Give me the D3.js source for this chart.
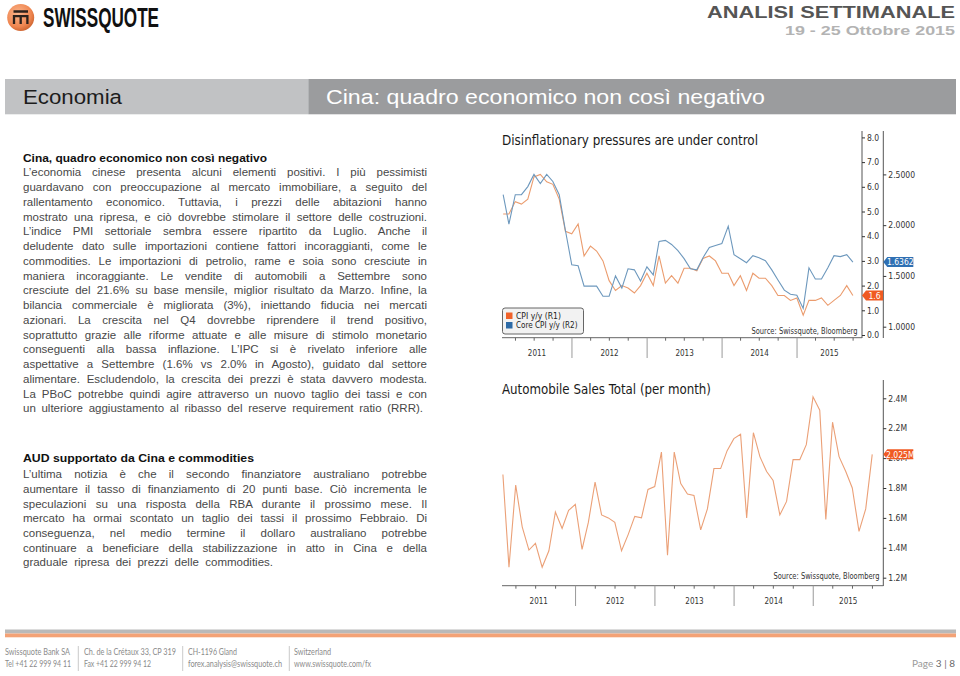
<!DOCTYPE html>
<html><head><meta charset="utf-8">
<script src="https://cdn.jsdelivr.net/npm/d3@7"></script>
<style>body{margin:0;background:#fff}svg{display:block}</style>
</head><body>
<svg id="page" width="960" height="676"></svg>
<script>
// ---------------- DATA ----------------
const years = [2011, 2012, 2013, 2014, 2015];
const cpiValues = [4.9,4.9,5.4,5.3,5.5,6.4,6.5,6.2,6.1,5.5,4.2,4.1,
  4.5,3.2,3.6,3.4,3.0,2.2,1.8,2.0,1.9,1.7,2.0,2.5,
  2.0,3.2,2.1,2.4,2.1,2.7,2.7,2.6,3.1,3.2,3.0,2.5,
  2.5,2.0,2.4,1.8,2.5,2.3,2.3,2.0,1.6,1.6,1.4,1.5,
  0.8,1.4,1.4,1.5,1.2,1.4,1.6,2.0,1.6];
const coreCpiValues = [2.30,2.01,2.30,2.30,2.38,2.50,2.41,2.50,2.43,2.30,1.95,1.61,
  1.60,1.40,1.40,1.40,1.30,1.30,1.50,1.38,1.57,1.56,1.45,1.59,
  1.51,1.84,1.85,1.81,1.75,1.67,1.57,1.56,1.68,1.78,1.80,1.82,
  1.99,1.71,1.67,1.63,1.70,1.68,1.65,1.56,1.46,1.36,1.32,1.31,
  1.18,1.58,1.47,1.47,1.58,1.70,1.69,1.71,1.6362];
const autoSalesValues = [1.89,1.27,1.82,1.54,1.385,1.43,1.27,1.38,1.64,1.53,1.65,1.69,
  1.39,1.57,1.84,1.62,1.60,1.57,1.38,1.49,1.61,1.60,1.79,1.81,
  2.04,1.35,2.04,1.83,1.76,1.75,1.52,1.66,1.93,1.93,2.05,2.13,
  2.16,1.60,2.17,2.01,1.91,1.85,1.62,1.71,1.99,1.99,2.09,2.41,
  2.32,1.59,2.24,2.01,1.91,1.80,1.51,1.66,2.025];
const cpiTicks = [0,1,2,3,4,5,6,7,8];
const coreTicks = [1.0,1.5,2.0,2.5];
const salesTicks = [1.2,1.4,1.6,1.8,2.0,2.2,2.4];
const cpiLastLabel = "1.6";
const coreLastLabel = "1.6362";
const salesLastLabel = "2.025M";
const legendLabels = ["CPI y/y (R1)", "Core CPI y/y (R2)"];

const topTitle = "Disinflationary pressures are under control";
const bottomTitle = "Automobile Sales Total (per month)";
const sourceText = "Source: Swissquote, Bloomberg";

const block1Title = "Cina, quadro economico non così negativo";
const block1Lines = [
 "L’economia cinese presenta alcuni elementi positivi. I più pessimisti",
 "guardavano con preoccupazione al mercato immobiliare, a seguito del",
 "rallentamento economico. Tuttavia, i prezzi delle abitazioni hanno",
 "mostrato una ripresa, e ciò dovrebbe stimolare il settore delle costruzioni.",
 "L’indice PMI settoriale sembra essere ripartito da Luglio. Anche il",
 "deludente dato sulle importazioni contiene fattori incoraggianti, come le",
 "commodities. Le importazioni di petrolio, rame e soia sono cresciute in",
 "maniera incoraggiante. Le vendite di automobili a Settembre sono",
 "cresciute del 21.6% su base mensile, miglior risultato da Marzo. Infine, la",
 "bilancia commerciale è migliorata (3%), iniettando fiducia nei mercati",
 "azionari. La crescita nel Q4 dovrebbe riprendere il trend positivo,",
 "soprattutto grazie alle riforme attuate e alle misure di stimolo monetario",
 "conseguenti alla bassa inflazione. L’IPC si è rivelato inferiore alle",
 "aspettative a Settembre (1.6% vs 2.0% in Agosto), guidato dal settore",
 "alimentare. Escludendolo, la crescita dei prezzi è stata davvero modesta.",
 "La PBoC potrebbe quindi agire attraverso un nuovo taglio dei tassi e con",
 "un ulteriore aggiustamento al ribasso del reserve requirement ratio (RRR)."
];
const block2Title = "AUD supportato da Cina e commodities";
const block2Lines = [
 "L’ultima notizia è che il secondo finanziatore australiano potrebbe",
 "aumentare il tasso di finanziamento di 20 punti base. Ciò incrementa le",
 "speculazioni su una risposta della RBA durante il prossimo mese. Il",
 "mercato ha ormai scontato un taglio dei tassi il prossimo Febbraio. Di",
 "conseguenza, nel medio termine il dollaro australiano potrebbe",
 "continuare a beneficiare della stabilizzazione in atto in Cina e della",
 "graduale ripresa dei prezzi delle commodities."
];
const footerCols = [
 ["Swissquote Bank SA", "Tel +41 22 999 94 11"],
 ["Ch. de la Crétaux 33, CP 319", "Fax +41 22 999 94 12"],
 ["CH-1196 Gland", "forex.analysis@swissquote.ch"],
 ["Switzerland", "www.swissquote.com/fx"]
];

// ---------------- PAGE ----------------
const svg = d3.select('#page');
const SANS = "'Liberation Sans', Arial, sans-serif";
const BBG = "'DejaVu Sans Condensed', 'DejaVu Sans', sans-serif";

function fitText(sel, target, allowStretch) {
  const n = sel.node();
  const nat = n.getComputedTextLength();
  const spaces = (sel.text().match(/ /g) || []).length;
  if (nat <= target && spaces > 0) {
    if (allowStretch) sel.attr('word-spacing', (target - nat) / spaces);
  } else if (nat > target) {
    sel.attr('textLength', target).attr('lengthAdjust', 'spacingAndGlyphs');
  }
}

// Logo
const defs = svg.append('defs');
const rg = defs.append('radialGradient').attr('id','lg').attr('cx','40%').attr('cy','35%').attr('r','70%');
rg.append('stop').attr('offset','0%').attr('stop-color','#fbb58c');
rg.append('stop').attr('offset','70%').attr('stop-color','#ef8650');
rg.append('stop').attr('offset','100%').attr('stop-color','#c9602c');
svg.append('circle').attr('cx',20.7).attr('cy',17.5).attr('r',13.5).attr('fill','url(#lg)');
svg.append('path').attr('d','M13.5,11.5 H28 M14,24 V16.2 H27.4 V24 M20.7,16.2 V24')
  .attr('fill','none').attr('stroke','#2b211c').attr('stroke-width',2.3);
svg.append('text').attr('x',43).attr('y',27.3).attr('font-family',"'Liberation Sans Narrow','Liberation Sans',Arial,sans-serif")
  .attr('font-weight','bold').attr('font-size',27).attr('fill','#111')
  .attr('textLength',116).attr('lengthAdjust','spacingAndGlyphs').text('SWISSQUOTE');

svg.append('text').attr('x',955).attr('y',17.5).attr('text-anchor','end').attr('font-family',SANS)
  .attr('font-weight','bold').attr('font-size',17).attr('fill','#555')
  .attr('textLength',248).attr('lengthAdjust','spacingAndGlyphs').text('ANALISI SETTIMANALE');
svg.append('text').attr('x',955).attr('y',35.3).attr('text-anchor','end').attr('font-family',SANS)
  .attr('font-weight','bold').attr('font-size',13.5).attr('fill','#b3b3b3')
  .attr('textLength',170).attr('lengthAdjust','spacingAndGlyphs').text('19 - 25 Ottobre 2015');

// Section band
svg.append('rect').attr('x',5).attr('y',79).attr('width',303.3).attr('height',35.3).attr('fill','#c1c2c4');
svg.append('rect').attr('x',308.3).attr('y',79).attr('width',647.7).attr('height',35.3).attr('fill','#9b9c9e');
svg.append('text').attr('x',23).attr('y',104).attr('font-family',SANS).attr('font-size',20.5).attr('fill','#1c1c1c')
  .attr('textLength',99).attr('lengthAdjust','spacingAndGlyphs').text('Economia');
svg.append('text').attr('x',326).attr('y',104).attr('font-family',SANS).attr('font-size',20.5).attr('fill','#fff')
  .attr('textLength',439).attr('lengthAdjust','spacingAndGlyphs').text('Cina: quadro economico non così negativo');

// Text blocks
function textBlock(title, titleW, lines, lastW, titleY, firstY, step) {
  svg.append('text').attr('x',23).attr('y',titleY).attr('font-family',SANS)
    .attr('font-weight','bold').attr('font-size',11.5).attr('fill','#111')
    .attr('textLength', titleW).attr('lengthAdjust','spacingAndGlyphs').text(title);
  lines.forEach((ln, i) => {
    const s = svg.append('text').attr('x',23).attr('y',firstY + i*step).attr('font-family',SANS)
      .attr('font-size',11.5).attr('fill','#484848').text(ln);
    const last = i === lines.length - 1;
    fitText(s, last ? lastW : 404, true);
  });
}
textBlock(block1Title, 244, block1Lines, 400, 161.5, 176.3, 14.75);
textBlock(block2Title, 231, block2Lines, 250, 461.5, 478.3, 14.67);

// Footer
svg.append('rect').attr('x',5).attr('y',629.5).attr('width',951).attr('height',4).attr('fill','#b9b9b9');
svg.append('rect').attr('x',5).attr('y',633.5).attr('width',951).attr('height',3.8).attr('fill','#f3a276');
const colX = [5, 84, 188, 294];
const colW = [[65, 66], [92, 67], [49, 94], [37, 77]];
const sepX = [78.3, 182.7, 289.3];
sepX.forEach(x => svg.append('line').attr('x1',x).attr('x2',x).attr('y1',646).attr('y2',671).attr('stroke','#bbb').attr('stroke-width',0.8));
footerCols.forEach((c, i) => {
  c.forEach((t, j) => svg.append('text').attr('x', colX[i]).attr('y', 654.5 + j*12).attr('font-family',"Lato, 'Open Sans', sans-serif")
    .attr('font-size',8.8).attr('fill','#8a8a8a').attr('textLength', colW[i][j]).attr('lengthAdjust','spacingAndGlyphs').text(t));
});
const pg = svg.append('text').attr('x',955).attr('y',667).attr('text-anchor','end').attr('font-family',"Lato, 'Open Sans', sans-serif").attr('font-size',10);
pg.append('tspan').attr('fill','#9a9a9a').text('Page ');
pg.append('tspan').attr('fill','#6a6a6a').text('3 | 8');

// ---------------- helpers for charts ----------------
function drawTag(g, x, y, w, fill, label) {
  const h = 10;
  g.append('path').attr('d', `M${x},${y} L${x+4},${y-h/2} L${x+w},${y-h/2} L${x+w},${y+h/2} L${x+4},${y+h/2} Z`)
    .attr('fill', fill);
  g.append('text').attr('x', x + 4 + (w-4)/2).attr('y', y + 3.2).attr('text-anchor','middle')
    .attr('font-family',BBG).attr('font-size',8.5).attr('fill','#fff').text(label);
}
function styleAxis(g) {
  g.select('.domain').remove();
  g.attr('font-family', BBG).attr('font-size', 8.5);
  g.selectAll('.tick line').attr('stroke','#333');
  g.selectAll('.tick text').attr('fill','#333');
}
function timeAxis(g, x, y, x0, x1, bottomY) {
  g.append('line').attr('x1',x0).attr('x2',x1).attr('y1',y).attr('y2',y).attr('stroke','#666');
  const quarters = d3.timeMonths(new Date(2011,0,1), new Date(2016,0,1), 3).filter(d => d.getMonth() !== 0 && x(d) > x0 && x(d) < x1);
  g.selectAll('.qt').data(quarters).join('line').attr('x1', d => x(d)).attr('x2', d => x(d))
    .attr('y1', y).attr('y2', y + 3).attr('stroke', '#666');
  const seps = years.slice(1).map(yr => new Date(yr,0,1));
  g.selectAll('.ys').data(seps).join('line').attr('x1', d => x(d)).attr('x2', d => x(d))
    .attr('y1', y).attr('y2', bottomY).attr('stroke', '#9a9a9a');
  g.selectAll('.yl').data(years).join('text')
    .attr('x', yr => (Math.max(x0, x(new Date(yr,0,1))) + Math.min(x1, x(new Date(yr+1,0,1)))) / 2)
    .attr('y', y + 18.5).attr('text-anchor','middle').attr('font-family',BBG).attr('font-size',8)
    .attr('fill','#333').text(yr => yr);
}
const dates = d3.range(cpiValues.length).map(i => new Date(2011, i + 1, 0));

// ---------------- TOP CHART ----------------
const gT = svg.append('g');
gT.append('text').attr('x',502).attr('y',145).attr('font-family',BBG).attr('font-size',14).attr('fill','#1a1a1a')
  .attr('textLength',256).attr('lengthAdjust','spacingAndGlyphs').text(topTitle);
const xTop = d3.scaleTime().domain([new Date(2011,0,1), new Date(2016,0,1)]).range([497, 872]);
const yR1 = d3.scaleLinear().domain([0, 8]).range([335, 137.4]);
const yR2 = d3.scaleLinear().domain([1, 2.5]).range([326.7, 174.4]);
gT.append('path').attr('d', d3.line().x((d,i) => xTop(dates[i])).y(d => yR1(d))(cpiValues))
  .attr('fill','none').attr('stroke','#eb9c6e').attr('stroke-width',1.1);
gT.append('path').attr('d', d3.line().x((d,i) => xTop(dates[i])).y(d => yR2(d))(coreCpiValues))
  .attr('fill','none').attr('stroke','#6d98bd').attr('stroke-width',1.1);

// legend
const lg = gT.append('g');
lg.append('rect').attr('x',502.5).attr('y',308).attr('width',81).attr('height',26).attr('rx',2.5)
  .attr('fill','#f2f2f2').attr('stroke','#555').attr('stroke-width',0.9);
const legendColors = ['#f0622a', '#2d6aa6'];
legendLabels.forEach((l, i) => {
  lg.append('rect').attr('x',506).attr('y',312.5 + i*9.5).attr('width',6.5).attr('height',6.5).attr('fill',legendColors[i]);
  lg.append('text').attr('x',516).attr('y',318.8 + i*9.5).attr('font-family',BBG).attr('font-size',8).attr('fill','#222')
    .attr('textLength', i === 0 ? 45 : 61.5).attr('lengthAdjust','spacingAndGlyphs').text(l);
});
gT.append('text').attr('x',857.5).attr('y',334).attr('text-anchor','end').attr('font-family',BBG).attr('font-size',8.3)
  .attr('fill','#333').attr('textLength',106).attr('lengthAdjust','spacingAndGlyphs').text(sourceText);

// axes
gT.append('line').attr('x1',862).attr('x2',862).attr('y1',131).attr('y2',338).attr('stroke','#555');
gT.append('line').attr('x1',883.3).attr('x2',883.3).attr('y1',131).attr('y2',338).attr('stroke','#555');
gT.append('g').attr('transform','translate(862,0)')
  .call(d3.axisRight(yR1).tickValues(cpiTicks).tickSize(3).tickPadding(2).tickFormat(d3.format('.1f'))).call(styleAxis);
gT.append('g').attr('transform','translate(883.3,0)')
  .call(d3.axisRight(yR2).tickValues(coreTicks).tickSize(3).tickPadding(2).tickFormat(d3.format('.4f'))).call(styleAxis);
timeAxis(gT, xTop, 337.7, 502, 862, 358);
drawTag(gT, 883.3, yR2(coreCpiValues[coreCpiValues.length-1]), 30, '#2f70b3', coreLastLabel);
drawTag(gT, 862, yR1(cpiValues[cpiValues.length-1]), 21, '#f05a22', cpiLastLabel);

// ---------------- BOTTOM CHART ----------------
const gB = svg.append('g');
gB.append('text').attr('x',502).attr('y',393.5).attr('font-family',BBG).attr('font-size',14).attr('fill','#1a1a1a')
  .attr('textLength',209).attr('lengthAdjust','spacingAndGlyphs').text(bottomTitle);
const xBot = d3.scaleTime().domain([new Date(2011,0,1), new Date(2016,0,1)]).range([496.4, 892.4]);
const ySales = d3.scaleLinear().domain([1.2, 2.4]).range([577.7, 398.3]);
gB.append('path').attr('d', d3.line().x((d,i) => xBot(dates[i])).y(d => ySales(d))(autoSalesValues))
  .attr('fill','none').attr('stroke','#eba077').attr('stroke-width',1.1);
gB.append('text').attr('x',879.5).attr('y',579).attr('text-anchor','end').attr('font-family',BBG).attr('font-size',8.3)
  .attr('fill','#333').attr('textLength',106).attr('lengthAdjust','spacingAndGlyphs').text(sourceText);
gB.append('line').attr('x1',883.3).attr('x2',883.3).attr('y1',380).attr('y2',586).attr('stroke','#555');
gB.append('g').attr('transform','translate(883.3,0)')
  .call(d3.axisRight(ySales).tickValues(salesTicks).tickSize(3).tickPadding(2).tickFormat(d => d3.format('.1f')(d) + 'M')).call(styleAxis);
timeAxis(gB, xBot, 585.7, 502, 883.3, 606);
drawTag(gB, 883.3, ySales(autoSalesValues[autoSalesValues.length-1]), 30, '#f05a22', salesLastLabel);
</script>
</body></html>
